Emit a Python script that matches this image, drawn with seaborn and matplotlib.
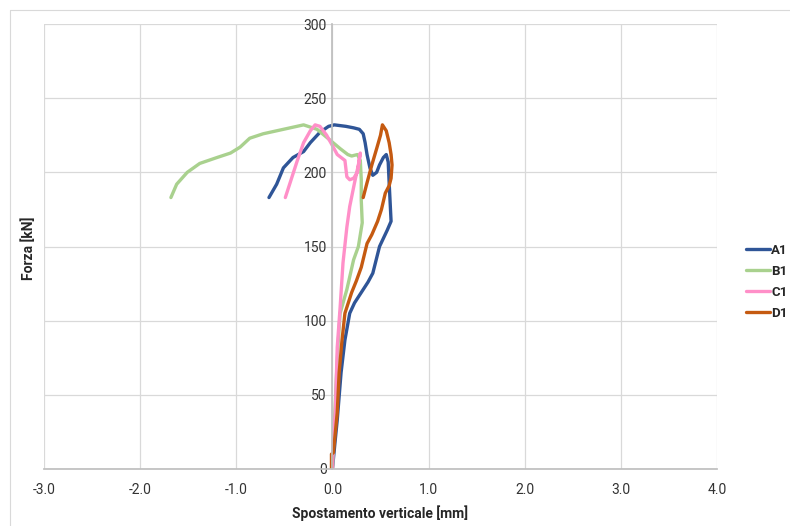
import matplotlib
matplotlib.use("Agg")
import matplotlib.pyplot as plt
import seaborn as sns
import pandas as pd
from matplotlib.lines import Line2D

# curve data (displacement [mm], force [kN])
a1_x = [0, 0.03, 0.05, 0.09, 0.13, 0.18, 0.23, 0.30, 0.37, 0.42, 0.49, 0.57, 0.61, 0.60, 0.59, 0.58,
        0.56, 0.53, 0.49, 0.46, 0.42, 0.39, 0.36, 0.34, 0.32, 0.28, 0.22, 0.14, 0.08, 0.02, -0.04,
        -0.13, -0.23, -0.30, -0.41, -0.51, -0.58, -0.66]
a1_y = [0, 20, 33, 65, 87, 105, 112, 119, 126, 132, 150, 161, 167, 180, 193, 207,
        212, 210, 205, 200, 198, 203, 212, 220, 226, 229, 230, 231, 231.5, 232, 231,
        227, 220, 214, 210, 203, 192, 183]

b1_x = [0, 0.02, 0.04, 0.06, 0.08, 0.15, 0.22, 0.27, 0.31, 0.30, 0.30, 0.29, 0.26, 0.20, 0.16, 0.08,
        -0.03, -0.16, -0.30, -0.44, -0.65, -0.72, -0.86, -0.96, -1.06, -1.20, -1.38, -1.51, -1.62, -1.68]
b1_y = [0, 30, 60, 85, 105, 121, 141, 150, 166, 181, 195, 208, 212, 211, 212, 216,
        222, 229, 232, 230, 227, 226, 223, 217, 213, 210, 206, 200, 192, 183]

c1_x = [0, 0.01, 0.03, 0.05, 0.08, 0.11, 0.15, 0.18, 0.23, 0.27, 0.29, 0.26, 0.22, 0.18, 0.15, 0.13,
        0.05, 0, -0.06, -0.13, -0.18, -0.23, -0.30, -0.37, -0.44, -0.49]
c1_y = [0, 20, 38, 82, 109, 139, 163, 177, 193, 205, 213, 200, 196, 195, 197, 208,
        212, 218, 225, 231, 232, 228, 220, 207, 193, 183]

d1_x = [-0.01, -0.01, 0.01, 0.05, 0.07, 0.10, 0.13, 0.20, 0.25, 0.30, 0.36, 0.41, 0.47, 0.51, 0.55, 0.59,
        0.61, 0.62, 0.61, 0.59, 0.56, 0.52, 0.50, 0.46, 0.41, 0.36, 0.32]
d1_y = [0, 10, 11, 38, 65, 87, 105, 119, 127, 136, 152, 158, 167, 175, 186, 191,
        196, 205, 212, 220, 228, 232, 225, 216, 205, 193, 183]

series = ["A1", "B1", "C1", "D1"]
colors = ["#2f5597", "#a9d18e", "#ff8fc8", "#c55a11"]
x_ticks = [-3, -2, -1, 0, 1, 2, 3, 4]
y_ticks = [0, 50, 100, 150, 200, 250, 300]

frames = []
for name, xs, ys in zip(series, [a1_x, b1_x, c1_x, d1_x], [a1_y, b1_y, c1_y, d1_y]):
    frames.append(pd.DataFrame({"x": xs, "y": ys, "serie": name}))
df = pd.concat(frames, ignore_index=True)

sns.set_theme(style="white")
plt.rcParams["font.family"] = ["Roboto", "DejaVu Sans"]

fig = plt.figure(figsize=(7.9, 5.26), dpi=100)
ax = fig.add_axes([44 / 790, 57 / 526, 673 / 790, 445 / 526])

sns.lineplot(data=df, x="x", y="y", hue="serie", hue_order=series, palette=colors,
             sort=False, estimator=None, units="serie", linewidth=2.4, ax=ax, legend=False)

ax.set_xlim(-3, 4)
ax.set_ylim(0, 300)
ax.set_xticks(x_ticks)
ax.set_xticklabels([f"{v:.1f}" for v in x_ticks])
ax.set_yticks(y_ticks)
ax.grid(True, color="#d9d9d9", linewidth=0.9)
ax.set_axisbelow(True)

for s in ["top", "right"]:
    ax.spines[s].set_visible(False)
ax.spines["left"].set_position(("data", 0))
ax.spines["left"].set_color("#bfbfbf")
ax.spines["bottom"].set_color("#bfbfbf")
ax.tick_params(axis="both", length=0, labelsize=10, colors="#333333")
ax.tick_params(axis="x", pad=10)
ax.tick_params(axis="y", pad=4)

ax.set_xlabel("Spostamento verticale [mm]", fontsize=10, fontweight="bold", labelpad=6)
ax.set_ylabel("")
fig.text(29 / 790, 1 - 248 / 526, "Forza [kN]", rotation=90, fontsize=10,
         fontweight="bold", ha="center", va="center")

handles = [Line2D([], [], color=c, linewidth=2.4) for c in colors]
leg = fig.legend(handles, series, loc="center left", bbox_to_anchor=(746 / 790, 0.464),
                 frameon=False, borderpad=0, borderaxespad=0, handlelength=1.85,
                 handletextpad=0.05, labelspacing=0.6,
                 prop={"weight": "bold", "size": 9.5})

# light frame around the chart
fig.add_artist(Line2D([10 / 790, 10 / 790], [0, 1 - 10 / 526], color="#d9d9d9",
                      linewidth=0.8, transform=fig.transFigure))
fig.add_artist(Line2D([10 / 790, 1], [1 - 10 / 526, 1 - 10 / 526], color="#d9d9d9",
                      linewidth=0.8, transform=fig.transFigure))

fig.savefig("out.png", dpi=100)
